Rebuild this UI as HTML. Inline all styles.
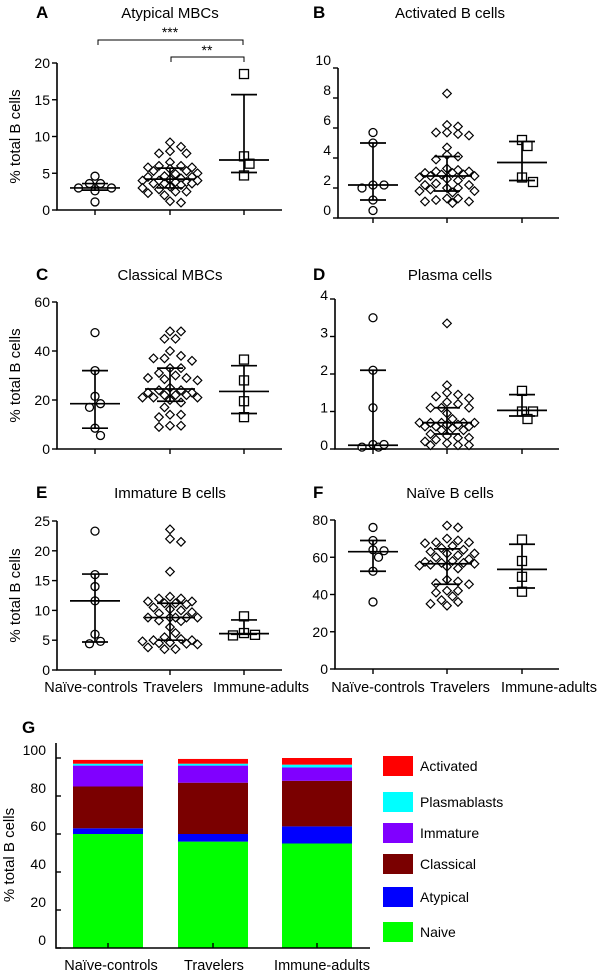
<!DOCTYPE html>
<html><head><meta charset="utf-8"><style>
body{margin:0;background:#fff;}
svg{display:block;font-family:"Liberation Sans",sans-serif;}
</style></head><body>
<svg id="fig" width="600" height="975" viewBox="0 0 600 975" xmlns="http://www.w3.org/2000/svg"></svg>
<script>
// ---------- data ----------
const groups = ["Naïve-controls","Travelers","Immune-adults"];
// Panel A: Atypical MBCs
const aTicks=[0,5,10,15,20];
const aCtrl=[3.6,4.6,3.0,3.0,2.6,3.6,1.1];
const aTrav=[9.2,8.0,7.7,7.7,8.6,6.5,6.0,5.8,5.8,6.0,5.3,5.0,5.3,4.9,4.5,4.3,4.5,4.0,4.0,4.0,3.8,3.8,3.6,3.6,3.6,3.4,3.2,3.0,2.8,2.5,2.3,2.0,2.5,1.0,1.2,4.2,4.6,5.6];
const aImm=[18.5,7.3,6.3,4.7];
const aStats=[[3.0,2.7,3.6],[4.2,3.0,5.7],[6.8,5.1,15.7]];
// Panel B: Activated
const bTicks=[0,2,4,6,8,10];
const bCtrl=[5.7,5.0,2.2,2.0,2.2,1.2,0.5];
const bTrav=[8.3,6.2,6.1,5.7,5.6,5.5,5.7,4.7,4.1,4.2,3.9,3.3,3.2,3.1,3.0,2.9,2.8,2.8,2.7,2.6,2.9,3.0,3.1,2.5,2.3,2.2,2.0,1.9,1.8,1.7,1.8,2.0,2.2,1.3,1.2,1.1,1.0,1.1,1.3];
const bImm=[5.2,4.8,2.7,2.4];
const bStats=[[2.2,1.2,5.0],[2.8,1.8,4.1],[3.7,2.5,5.1]];
// Panel C: Classical MBCs
const cTicks=[0,20,40,60];
const cCtrl=[47.5,32,21.5,18.5,17,8.5,5.5];
const cTrav=[48,48,45,45,40,38,37,36,37,33,31,30,33,28.5,29,28,29,25,24,24,23,23,22,22,21,21,22,21,20,19,17,14,14,13,9.5,9,9.5];
const cImm=[36.5,28,19.5,13];
const cStats=[[18.5,8.5,32],[24.5,19.5,33],[23.5,14.5,34]];
// Panel D: Plasma cells
const dTicks=[0,1,2,3,4];
const dCtrl=[3.5,2.1,1.1,0.12,0.05,0.05,0.12];
const dTrav=[3.35,1.7,1.5,1.4,1.45,1.35,1.25,1.2,1.1,1.1,1.1,0.95,0.8,0.7,0.7,0.7,0.65,0.65,0.6,0.6,0.6,0.7,0.7,0.55,0.5,0.5,0.4,0.35,0.3,0.3,0.2,0.15,0.1,0.1,0.1,0.25];
const dImm=[1.55,1.0,1.0,0.8];
const dStats=[[0.1,0.0,2.1],[0.7,0.4,1.1],[1.03,0.88,1.45]];
// Panel E: Immature
const eTicks=[0,5,10,15,20,25];
const eCtrl=[23.3,16,14,11.6,6,4.8,4.4];
const eTrav=[23.6,22,21.5,16.5,12.3,12,11.5,11.2,11.2,11.5,12,11,10.5,10,9.7,9.5,10.2,8.8,8.8,8.8,8.8,8.8,8.3,8.2,7.2,6.2,5.5,5.0,5.2,5.0,4.8,4.4,4.3,4.5,4.6,3.8,3.5,3.5];
const eImm=[9,6.2,5.8,5.9];
const eStats=[[11.6,4.7,16.1],[8.8,5.0,11.2],[6.1,6.0,8.4]];
// Panel F: Naive
const fTicks=[0,20,40,60,80];
const fCtrl=[76,69,64,63.5,60,52.5,36];
const fTrav=[77,76,70,69,68,68,67.5,66,65,64,63,62,62,61,60,59,58,57.5,57,57,56.5,56,55.5,55,54,48,47,46,45.5,42,41,42,39,37,36,35,34];
const fImm=[69.5,58,49.5,41.5];
const fStats=[[63,52.5,69],[56.5,45.5,64.5],[53.5,43.5,67]];
// Panel G: stacked composition
const gTicks=[0,20,40,60,80,100];
const gLayers=["Naive","Atypical","Classical","Immature","Plasmablasts","Activated"];
const gColors=["#00ff00","#0000ff","#7a0000","#8000ff","#00ffff","#ff0000"];
const gNaive=[60,56,55];
const gAtypical=[3,4,9];
const gClassical=[22,27,24];
const gImmature=[11,9,7];
const gPlasma=[1,1,1.5];
const gActivated=[2,2.5,3.5];

// ---------- drawing ----------
const NS="http://www.w3.org/2000/svg";
const svg=document.getElementById('fig');
function mk(tag,attrs,parent){const e=document.createElementNS(NS,tag);for(const k in attrs)e.setAttribute(k,attrs[k]);(parent||svg).appendChild(e);return e;}
function txt(s,attrs,parent){const e=mk('text',attrs,parent);e.textContent=s;return e;}

function beeswarm(ys,cx,minD,step,maxOff){
  const idx=ys.map((v,i)=>i).sort((a,b)=>ys[a]-ys[b]);
  const placed=[];const xs=new Array(ys.length);
  idx.forEach(i=>{
    const y=ys[i];
    let best=null;
    for(let k=0;k<30;k++){
      const off=(k%2?1:-1)*Math.ceil(k/2)*step;
      if(Math.abs(off)>maxOff)break;
      const x=cx+off;
      if(placed.every(p=>Math.hypot(p[0]-x,p[1]-y)>=minD)){best=x;break;}
    }
    if(best===null){
      // least-overlap fallback
      let bd=-1;
      for(let k=0;k<30;k++){const off=(k%2?1:-1)*Math.ceil(k/2)*step;if(Math.abs(off)>maxOff)break;
        const x=cx+off;const d=Math.min(...placed.map(p=>Math.hypot(p[0]-x,p[1]-y)));
        if(d>bd){bd=d;best=x;}}
    }
    xs[i]=best;placed.push([best,y]);
  });
  return xs;
}

function panel(o){
  const g=mk('g',{});
  
  
  const {x0,x1,yTop,yBot,max,centers}=o;
  const Y=v=>yBot-(v/max)*(yBot-yTop);
  const lt=txt(o.letter,{x:o.lx,y:o.ly,'font-size':17,'font-weight':'bold'},g);
  
  const tt=txt(o.title,{x:o.tx,y:o.ly,'font-size':15,'text-anchor':'middle'},g);
  
  const ax=mk('path',{d:`M${x0},${yTop}V${yBot}H${x1}`,stroke:'#000','stroke-width':1.6,fill:'none'},g);
  
  o.ticks.forEach(t=>{
    mk('line',{x1:x0-5,x2:x0,y1:Y(t),y2:Y(t),stroke:'#000','stroke-width':1.4},g);
    const l=txt(String(t),{x:x0-7,y:Y(t)+5+(o.labOff||0),'font-size':14,'text-anchor':'end'},g);
    
  });
  centers.forEach(c=>mk('line',{x1:c,x2:c,y1:yBot,y2:yBot+5,stroke:'#000','stroke-width':1.4},g));
  if(o.ylab){const yl=txt('% total B cells',{x:0,y:0,'font-size':15,'text-anchor':'middle',transform:`translate(${o.ylabX},${(yTop+yBot)/2}) rotate(-90)`},g);
    }
  const series=[o.ctrl,o.trav,o.imm];
  const shapes=['circle','diamond','square'];
  series.forEach((vals,gi)=>{
    const ys=vals.map(Y);
    const xs=gi===1?beeswarm(ys,centers[gi],7.5,5.5,30):beeswarm(ys,centers[gi],8,5.5,20);
    vals.forEach((v,i)=>{
      let m;
      if(shapes[gi]==='circle') m=mk('circle',{cx:xs[i],cy:ys[i],r:4,fill:'#fff',stroke:'#000','stroke-width':1.3},g);
      else if(shapes[gi]==='diamond') m=mk('path',{d:`M${xs[i]},${ys[i]-4.3}l4.3,4.3l-4.3,4.3l-4.3,-4.3z`,fill:'#fff',stroke:'#000','stroke-width':1.2},g);
      else m=mk('rect',{x:xs[i]-4.5,y:ys[i]-4.5,width:9,height:9,fill:'#fff',stroke:'#000','stroke-width':1.3},g);
      
      
    });
    const [med,lo,hi]=o.stats[gi];const c=centers[gi];
    const eb=mk('path',{d:`M${c},${Y(lo)}V${Y(hi)}M${c-13},${Y(lo)}H${c+13}M${c-13},${Y(hi)}H${c+13}M${c-25},${Y(med)}H${c+25}`,stroke:'#000','stroke-width':1.7,fill:'none'},g);
    
    
  });
  if(o.xlabels){
    o.xlabPos.forEach((p,i)=>{const l=txt(groups[i],{x:p,y:692,'font-size':14.5,'text-anchor':'middle'},g);
      });
  }
  return Y;
}
const Lc=[95,170,244], Rc=[373,447,522];
panel({key:'a',letter:'A',title:'Atypical MBCs',lx:36,ly:18,tx:170,x0:57,x1:282,yTop:63,yBot:210,max:20,centers:Lc,ticks:aTicks,ctrl:aCtrl,trav:aTrav,imm:aImm,stats:aStats,ylab:true,ylabX:20});
panel({key:'b',letter:'B',title:'Activated B cells',lx:313,ly:18,tx:450,x0:338,x1:559,yTop:68,yBot:218,max:10,centers:Rc,ticks:bTicks,ctrl:bCtrl,trav:bTrav,imm:bImm,stats:bStats,labOff:-8});
panel({key:'c',letter:'C',title:'Classical MBCs',lx:36,ly:280,tx:170,x0:57,x1:282,yTop:302,yBot:449,max:60,centers:Lc,ticks:cTicks,ctrl:cCtrl,trav:cTrav,imm:cImm,stats:cStats,ylab:true,ylabX:20});
panel({key:'d',letter:'D',title:'Plasma cells',lx:313,ly:280,tx:450,x0:335,x1:559,yTop:299,yBot:449,max:4,centers:Rc,ticks:dTicks,ctrl:dCtrl,trav:dTrav,imm:dImm,stats:dStats,labOff:-4});
panel({key:'e',letter:'E',title:'Immature B cells',lx:36,ly:498,tx:170,x0:57,x1:282,yTop:521,yBot:670,max:25,centers:Lc,ticks:eTicks,ctrl:eCtrl,trav:eTrav,imm:eImm,stats:eStats,ylab:true,ylabX:20,xlabels:true,xlabPos:[91,173,261]});
panel({key:'f',letter:'F',title:'Naïve B cells',lx:313,ly:498,tx:450,x0:335,x1:559,yTop:520,yBot:669,max:80,centers:Rc,ticks:fTicks,ctrl:fCtrl,trav:fTrav,imm:fImm,stats:fStats,xlabels:true,xlabPos:[378,460,549]});

// significance brackets in A
const br=mk('path',{d:'M98,45V40H243V45M171,62V57H244V62',stroke:'#000','stroke-width':1,fill:'none'});


const s1=txt('***',{x:170,y:37,'font-size':14,'text-anchor':'middle'});

const s2=txt('**',{x:207,y:55,'font-size':14,'text-anchor':'middle'});


// Panel G
(function(){
  const g=mk('g',{});
  
  
  const x0=56,x1=370,yBot=948,yTop=758,max=100;
  const Y=v=>yBot-(v/max)*(yBot-yTop);
  const lt=txt('G',{x:22,y:733,'font-size':17,'font-weight':'bold'},g);
  
  const data=[gNaive,gAtypical,gClassical,gImmature,gPlasma,gActivated];
  const bx=[73,178,282], bw=70;
  bx.forEach((x,ci)=>{
    let acc=0;
    data.forEach((arr,li)=>{
      const v=arr[ci];
      const r=mk('rect',{x:x,y:Y(acc+v),width:bw,height:Y(acc)-Y(acc+v),fill:gColors[li]},g);
      
      
      acc+=v;
    });
  });
  const ax=mk('path',{d:`M${x0},${yTop-15}V${yBot}H${x1}`,stroke:'#000','stroke-width':1.6,fill:'none'},g);
  
  gTicks.forEach(t=>{
    mk('line',{x1:x0,x2:x0+5,y1:Y(t),y2:Y(t),stroke:'#000','stroke-width':1.4},g);
    const l=txt(String(t),{x:x0-10,y:Y(t)-3,'font-size':14,'text-anchor':'end'},g);
    
  });
  bx.forEach(x=>mk('line',{x1:x+bw/2,x2:x+bw/2,y1:yBot,y2:yBot-5,stroke:'#000','stroke-width':1.4},g));
  const yl=txt('% total B cells',{x:0,y:0,'font-size':15,'text-anchor':'middle',transform:'translate(14,855) rotate(-90)'},g);
  
  [111,214,322].forEach((p,i)=>{const l=txt(groups[i],{x:p,y:970,'font-size':14.5,'text-anchor':'middle'},g);
    });
  const legY=[766,802,833,864,897,932];
  [5,4,3,2,1,0].forEach((li,k)=>{
    const sw=mk('rect',{x:383,y:legY[k]-10,width:30,height:20,fill:gColors[li]},g);
    
    
    const l=txt(gLayers[li],{x:420,y:legY[k]+5,'font-size':14},g);
    
    
  });
})();
</script>
</body></html>
